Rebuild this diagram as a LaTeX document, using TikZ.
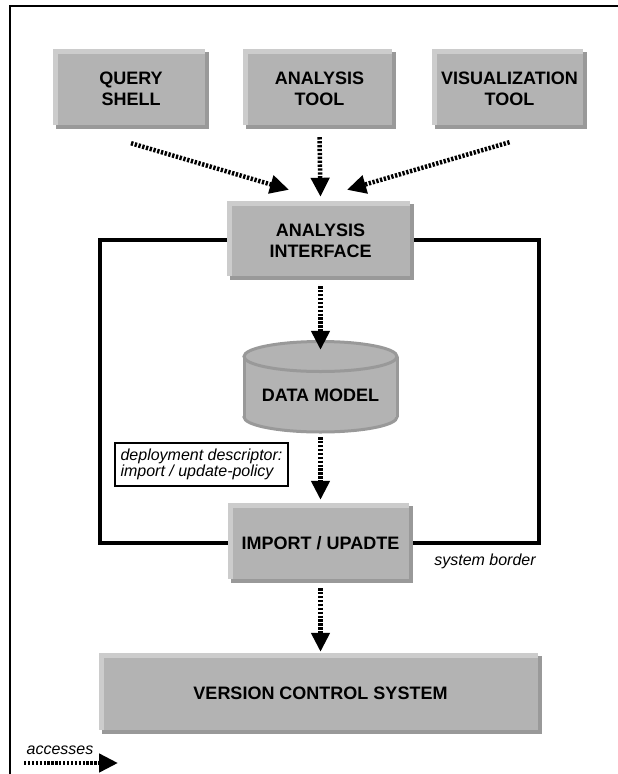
\documentclass[tikz,border=0pt]{standalone}
\usepackage{fontspec}
\setmainfont{Liberation Sans}
\usetikzlibrary{arrows.meta}
\definecolor{bmain}{RGB}{179,179,179}
\definecolor{blight}{RGB}{204,204,204}
\definecolor{bdark}{RGB}{153,153,153}
\tikzset{
  boxtext/.style={inner sep=0pt, align=center, text=black,
    font=\fontsize{18}{21}\selectfont\bfseries},
  note/.style={inner sep=0pt, text=black, font=\fontsize{16}{16}\selectfont\itshape},
  acc/.style={line width=4.5pt, dash pattern=on 2.3pt off 1.6pt,
    -{Triangle[length=19pt,width=18pt]}},
  border/.style={line width=4.5pt, black},
}
\newcommand\bevbox[6]{%
  \fill[bdark] (#2+3,#3+3) rectangle (#4,#5);
  \fill[blight] (#2,#3) rectangle (#4-4,#5-4);
  \fill[bmain] (#2+5,#3+5) rectangle (#4-4,#5-4);
  \node[boxtext, minimum width={(#4-#2)*1pt}, minimum height={(#5-#3)*1pt}]
    (#1) at ({(#2+#4)/2},{(#3+#5)/2}) {#6};
}
\begin{document}
\begin{tikzpicture}[x=1pt, y=-1pt]
\useasboundingbox (0,0) rectangle (618,774);
% frame (top and left edges)
\draw[line width=2.5pt] (10,774) -- (10,6) -- (618,6);
% system border
\draw[border] (100,240) rectangle (539,543);
% boxes
\bevbox{qs}{53}{49}{209}{129}{QUERY\\SHELL}
\bevbox{at}{243}{49}{396}{129}{ANALYSIS\\TOOL}
\bevbox{vt}{432}{49}{587}{129}{VISUALIZATION\\TOOL}
\bevbox{ai}{227}{201}{414}{280}{ANALYSIS\\INTERFACE}
\bevbox{iu}{228}{503}{413}{583}{IMPORT / UPADTE}
\bevbox{vcs}{99}{653}{542}{734}{VERSION CONTROL SYSTEM}
% data model cylinder
\node[minimum width=154pt, minimum height=91pt, inner sep=0pt] (dm) at (320.5,386.5) {};
\filldraw[fill=bmain, draw=bdark, line width=3pt] (320.5,417) ellipse [x radius=76.5pt, y radius=15pt];
\fill[bmain] (244,356.5) rectangle (397,417);
\draw[bdark, line width=3pt] (244,356.5) -- (244,417) (397,356.5) -- (397,417);
\filldraw[fill=bmain, draw=bdark, line width=3pt] (320.5,356.5) ellipse [x radius=76.5pt, y radius=15pt];
\node[boxtext] (dmtext) at (320.5,395) {DATA MODEL};
% deployment descriptor
\node[draw=black, line width=2.5pt, minimum width=173pt, minimum height=43pt,
  inner sep=0pt, align=left, text=black, font=\fontsize{16}{15.5}\selectfont\itshape]
  (dd) at (201.5,464.5) {deployment descriptor:\\import / update-policy};
% arrows
\draw[acc] ([yshift=-14pt]qs.south) -- ([xshift=-31.5pt,yshift=11pt]ai.north);
\draw[acc] ([yshift=-8pt]at.south) -- ([yshift=4pt]ai.north);
\draw[acc] ([yshift=-13pt]vt.south) -- ([xshift=26.5pt,yshift=11pt]ai.north);
\draw[acc] ([yshift=-6pt]ai.south) -- ([yshift=-9pt]dm.north);
\draw[acc] ([yshift=-5pt]dm.south) -- ([yshift=3pt]iu.north);
\draw[acc] ([yshift=-5pt]iu.south) -- ([yshift=1pt]vcs.north);
% labels
\node[note] (sb) at (485,561) {system border};
\node[note] (acl) at (60,750) {accesses};
\coordinate (legA) at (24,763);
\coordinate (legB) at (118,763);
\draw[acc] (legA) -- (legB);
\end{tikzpicture}
\end{document}
